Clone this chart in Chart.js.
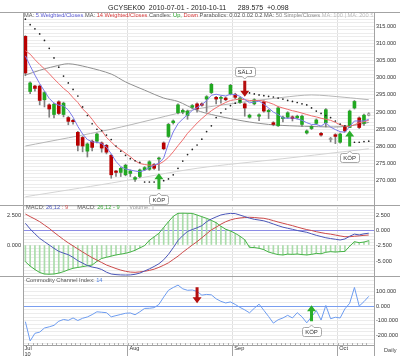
<!DOCTYPE html>
<html>
<head>
<meta charset="utf-8">
<script src="https://cdn.jsdelivr.net/npm/chart.js@4.4.1/dist/chart.umd.min.js"></script>
<style>
  html, body { margin:0; padding:0; background:#fff; }
  #wrap { position:relative; width:400px; height:356px; overflow:hidden; background:#fff; font-family:"Liberation Sans", Arial, Helvetica, sans-serif; }
  canvas { position:absolute; left:0; }
  .t { position:absolute; white-space:pre; line-height:1; z-index:6; }
  .ln { position:absolute; background:#a3a3a3; z-index:5; }
</style>
</head>
<body>
<div id="wrap">
  <canvas id="cMain" width="400" height="205" style="top:0px"></canvas>
  <canvas id="cMacd" width="400" height="71" style="top:205px"></canvas>
  <canvas id="cCci" width="400" height="80" style="top:276px"></canvas>
  <div class="ln" style="left:0;top:12px;width:400px;height:1px"></div>
  <div class="ln" style="left:0;top:205px;width:400px;height:1px"></div>
  <div class="ln" style="left:0;top:276px;width:400px;height:1px"></div>
  <div class="ln" style="left:23px;top:12px;width:1px;height:344px"></div>
  <div class="ln" style="left:374px;top:12px;width:1px;height:344px"></div>

  <div class="t" style="left:108px;top:3.5px;font-size:7px;color:#222">GCYSEK00  2010-07-01 - 2010-10-11      289.575  +0.098</div>

  <div style="position:absolute;left:24px;top:12.6px;width:349px;height:7px;overflow:hidden;z-index:6">
    <div class="t" style="left:0;top:0;font-size:5.7px;color:#555">MA: <span style="color:#5c5cd6">5 Weighted/Closes</span> MA: <span style="color:#d93a3a">14 Weighted/Closes</span> Candles: <span style="color:#1fa01f">Up,</span> <span style="color:#d93a3a">Down</span> Parabolics: 0.02 0.02 0.2 MA: <span style="color:#8a8a8a">50 Simple/Closes</span> <span style="color:#bbb">MA: 100 | MA: 200 Simple/Closes</span></div>
  </div>

  <div class="t" style="left:26px;top:204.8px;font-size:5.7px;color:#555">MACD: <span style="color:#4a56b8">26,12</span> <span style="color:#d05050">: 9</span></div>
  <div class="t" style="left:77.3px;top:204.8px;font-size:5.7px;color:#555">MACD: <span style="color:#3aa83a">26,12 - 9</span></div>
  <div class="t" style="left:129.3px;top:204.8px;font-size:5.7px;color:#999">Volume: <span style="color:#ccc">||</span></div>

  <div class="t" style="left:26px;top:278px;font-size:5.7px;color:#555">Commodity Channel Index: <span style="color:#4f7fe0">14</span></div>
  <div class="t" style="left:384px;top:347.7px;font-size:5.6px;color:#444">Daily</div>
</div>

<script>
// ---------------- DATA ----------------
const monthLabels = ['Jul', 'Aug', 'Sep', 'Oct'];
const monthStart  = [0, 22, 44, 66];        // index of first trading day of each month
const yearLabel   = '10';

const open = [
  312.1, 296.0, 297.6, 297.6, 293.6, 292.1, 289.3, 293.0, 289.3, 288.4,
  287.6, 284.1, 282.6, 278.6, 281.5, 281.5, 281.0, 280.3, 277.4, 272.8,
  272.4, 271.7, 272.1, 270.4, 271.2, 273.2, 273.3, 274.7, 276.3, 281.0,
  282.9, 286.9, 289.8, 290.0, 289.0, 291.4, 292.4, 292.4, 293.8, 295.7,
  294.3, 294.0, 294.1, 295.3, 295.2, 292.8, 292.4, 288.5, 292.4, 288.8,
  293.0, 290.1, 286.9, 286.0, 288.1, 288.5, 288.6, 288.3, 286.4, 283.9,
  285.2, 286.7, 283.8, 286.9, 282.0, 283.4, 281.2, 285.7, 285.5, 291.2,
  288.3, 286.7, 289.0];
const close = [
  301.4, 298.5, 296.9, 293.4, 295.7, 290.9, 292.3, 289.6, 292.6, 287.3,
  287.2, 280.3, 280.1, 280.7, 279.7, 283.6, 279.5, 278.3, 271.7, 272.4,
  273.6, 274.5, 272.8, 270.9, 273.1, 273.8, 275.5, 273.6, 276.6, 279.3,
  286.4, 287.4, 292.1, 290.5, 290.3, 291.9, 290.9, 292.0, 294.5, 298.1,
  293.8, 294.3, 293.6, 297.8, 294.3, 294.1, 291.2, 289.1, 293.6, 289.2,
  290.3, 290.5, 286.4, 291.2, 288.5, 289.8, 288.1, 288.8, 288.8, 284.5,
  285.8, 287.7, 283.3, 290.7, 282.0, 282.9, 283.6, 284.5, 290.3, 293.1,
  285.5, 289.1, 289.575];
const high = [
  312.3, 298.8, 297.8, 297.9, 296.0, 292.4, 292.6, 293.3, 292.9, 288.7,
  287.9, 284.4, 282.9, 281.0, 281.8, 283.9, 281.3, 280.6, 277.7, 273.0,
  273.9, 274.8, 273.1, 271.2, 273.4, 274.1, 275.8, 275.0, 276.9, 281.3,
  286.7, 287.7, 292.4, 290.9, 290.6, 292.2, 292.7, 292.7, 294.8, 298.4,
  294.6, 294.6, 294.4, 298.1, 295.5, 294.4, 292.7, 289.4, 293.9, 289.5,
  293.3, 290.8, 287.2, 291.5, 288.8, 290.1, 288.9, 289.1, 289.1, 284.8,
  286.1, 288.0, 284.1, 291.0, 282.6, 283.7, 283.9, 286.0, 290.6, 293.4,
  288.6, 289.4, 289.8];
const low = [
  300.6, 295.4, 296.1, 292.1, 291.5, 288.5, 288.3, 289.3, 288.6, 286.3,
  286.5, 278.7, 278.4, 276.9, 278.7, 281.0, 278.3, 277.8, 270.7, 271.2,
  271.2, 271.4, 271.2, 269.8, 270.9, 272.9, 273.0, 273.3, 273.0, 279.0,
  282.6, 286.5, 289.5, 289.5, 287.9, 291.0, 290.0, 291.7, 290.0, 295.4,
  292.4, 292.6, 293.3, 295.0, 293.9, 292.5, 288.8, 288.2, 292.1, 287.5,
  290.0, 288.1, 286.0, 285.8, 287.1, 288.2, 287.4, 288.0, 285.8, 283.6,
  284.9, 286.4, 283.0, 285.7, 281.3, 280.8, 280.9, 284.2, 285.5, 290.9,
  285.2, 286.1, 288.9];

const maWeighted5 = [
  306.4, 303.5, 300.8, 298.3, 296.1, 294.0, 292.6, 292.0, 291.8, 290.6,
  288.5, 285.8, 283.6, 282.0, 281.3, 281.2, 280.8, 279.8, 277.8, 275.6,
  274.1, 273.4, 273.1, 272.8, 272.6, 273.0, 273.8, 274.5, 275.1, 276.6,
  280.8, 284.2, 286.6, 288.0, 289.2, 290.5, 291.3, 292.2, 293.3, 294.9,
  295.2, 294.9, 294.7, 295.2, 295.1, 294.6, 293.7, 292.7, 292.9, 293.2,
  292.3, 291.2, 290.0, 289.3, 288.3, 288.2, 288.3, 288.0, 287.6, 286.9,
  286.4, 286.4, 285.9, 286.9, 285.6, 284.9, 284.3, 284.1, 285.8, 287.4,
  287.4, 287.4, 287.9];
const maWeighted14 = [
  307.9, 306.9, 305.3, 303.9, 302.6, 301.2, 299.7, 298.3, 296.9, 295.8,
  294.2, 292.8, 290.9, 289.6, 287.9, 286.0, 284.6, 282.6, 281.3, 279.9,
  279.0, 278.0, 277.0, 275.8, 275.0, 274.7, 274.5, 274.5, 274.8, 275.6,
  276.8, 278.4, 280.2, 281.9, 283.8, 285.3, 286.8, 288.1, 289.3, 290.4,
  291.3, 292.1, 292.8, 293.4, 293.6, 293.8, 293.6, 293.4, 293.4, 293.4,
  293.2, 292.8, 292.3, 291.6, 291.2, 290.8, 290.4, 290.1, 289.7, 289.3,
  288.9, 288.6, 288.2, 287.9, 287.6, 287.0, 286.3, 285.9, 285.8, 286.3,
  286.9, 287.2, 287.6];
const parabolicSar = [
  317.1, 315.5, 314.3, 312.8, 310.9, 308.6, 305.8, 303.1, 300.5, 298.5,
  296.6, 294.7, 291.5, 289.0, 286.6, 285.0, 284.6, 283.3, 282.0, 280.1,
  278.6, 277.4, 276.4, 275.8, 275.3, 269.6, 269.6, 269.6, 269.6, 270.0,
  270.5, 271.7, 273.6, 275.7, 277.6, 279.1, 280.4, 282.1, 284.3, 286.0,
  288.4, 289.8, 290.9, 291.9, 292.6, 293.3, 296.0, 295.6, 295.3, 295.0,
  294.8, 294.6, 294.4, 294.1, 293.8, 293.4, 293.1, 292.8, 292.4, 292.1,
  291.2, 290.3, 289.6, 289.0, 288.4, 287.4, 286.5, 286.0, 281.0, 281.2,
  281.2, 281.4, 281.5];

// long simple moving averages, read at a few points along each curve
const ma50Idx   = [0, 3, 6, 9, 13, 18, 21, 25, 29, 32, 36, 39, 43, 47, 51, 54, 60, 66, 70, 72];
const ma50Val   = [300.8, 302.2, 303.3, 304.1, 303.1, 301.1, 298.8, 296.4, 294.1, 293.1,
                   290.5, 289.3, 288.1, 287.1, 286.4, 286.1, 285.8, 285.7, 286.4, 287.0];
const ma100Idx  = [0, 18, 36, 44, 54, 60, 67, 72];
const ma100Val  = [280.1, 285.0, 290.9, 292.6, 294.3, 295.0, 294.3, 293.6];
const ma200Idx  = [0, 18, 36, 54, 72];
const ma200Val  = [265.3, 269.3, 273.6, 276.4, 279.3];

const macdLine = [
  1.24, 0.3, -0.5, -1.25, -1.8, -2.35, -2.9, -3.4, -3.7, -3.95,
  -4.4, -4.95, -5.35, -5.75, -6.0, -6.15, -6.4, -6.85, -7.15, -7.25,
  -7.3, -7.32, -7.3, -7.2, -7.0, -6.65, -6.3, -5.9, -5.45, -4.8,
  -3.9, -2.8, -1.6, -0.8, -0.1, 0.2, 0.5, 0.85, 1.5, 1.95,
  2.3, 2.62, 2.78, 2.88, 2.85, 2.6, 2.35, 2.1, 1.9, 1.78,
  1.65, 1.4, 1.13, 0.85, 0.6, 0.42, 0.25, 0.05, -0.1, -0.25,
  -0.5, -0.75, -0.95, -1.15, -1.28, -1.4, -1.52, -1.35, -0.9, -0.55,
  -0.68, -0.5, -0.4];
const macdSignal = [
  2.78, 2.35, 1.95, 1.51, 0.95, 0.4, -0.25, -0.85, -1.45, -2.0,
  -2.5, -3.0, -3.5, -3.98, -4.45, -4.85, -5.25, -5.66, -5.95, -6.25,
  -6.5, -6.7, -6.83, -6.87, -6.8, -6.7, -6.55, -6.35, -6.05, -5.7,
  -5.3, -4.75, -4.2, -3.55, -2.95, -2.35, -1.8, -1.15, -0.5, 0.15,
  0.6, 1.1, 1.5, 1.8, 2.0, 2.12, 2.2, 2.24, 2.2, 2.12,
  2.07, 1.9, 1.68, 1.45, 1.25, 1.05, 0.85, 0.62, 0.4, 0.2,
  0.05, -0.15, -0.3, -0.45, -0.55, -0.7, -0.85, -0.98, -0.98, -0.9,
  -0.84, -0.75, -0.7];
const macdHist = [
  -1.43, -1.8, -2.1, -2.35, -2.48, -2.5, -2.48, -2.4, -2.28, -2.12,
  -1.99, -1.92, -1.85, -1.78, -1.71, -1.4, -1.15, -1.05, -0.95, -0.85,
  -0.78, -0.71, -0.6, -0.45, -0.25, -0.05, 0.4, 0.7, 1.0, 1.5,
  1.99, 2.45, 2.71, 2.72, 2.71, 2.7, 2.56, 2.42, 2.28, 2.1,
  1.91, 1.6, 1.35, 1.2, 1.0, 0.75, 0.45, -0.2, -0.22, -0.28,
  -0.4, -0.6, -0.72, -0.82, -0.85, -0.78, -0.8, -0.77, -0.82, -0.85,
  -0.8, -0.72, -0.75, -0.62, -0.57, -0.6, -0.57, -0.55, -0.1, 0.28,
  0.2, 0.25, 0.37];
const cci14 = [
  -105, -236, -184, -176, -148, -140, -130, -102, -90, -96,
  -80, -97, -82, -73, -57, -38, -41, -44, -72, -64,
  -56, -48, -46, -58, -38, -15, -14, -10, 12, 62,
  108, 127, 143, 118, 108, 110, 100, 75, 80, 77,
  50, 33, 22, 29, 12, -8, -25, -45, -14, 14,
  -28, -70, -115, -92, -80, -62, -80, -44, -72, -113,
  -72, -30, -94, 5, -85, -75, -80, -18, 20, 127,
  1, 31, 67];

const priceSignalIdx  = [28, 46, 68];
const priceSignalType = ['KÖP', 'SÄLJ', 'KÖP'];
const cciSignalIdx    = [36, 60];
const cciSignalType   = ['SÄLJ', 'KÖP'];

const priceTickLabels = [270, 275, 280, 285, 290, 295, 300, 305, 310, 315];
const macdTickLabels  = [-5, -2.5, 0, 2.5];
const histTickLabels  = [0, 2.5];
const cciTickLabels   = [-200, -100, 0, 100];

// ---------------- STYLE / HELPERS ----------------
const FONT = '"Liberation Sans", Arial, Helvetica, sans-serif';
const FAINT = '#ececec';
const X_MIN = -0.5, X_MAX = 73.1;
Chart.defaults.font.family = FONT;

const pts = arr => arr.map((v, i) => ({x: i, y: v}));
const sparse = (ix, vals) => ix.map((x, k) => ({x, y: vals[k]}));

function rangeTicks(min, max, step) {
  const t = [];
  for (let v = Math.ceil(min / step - 1e-9) * step; v <= max + 1e-9; v += step) t.push({value: Math.round(v * 1000) / 1000});
  return t;
}
function yAxis(o) {
  return {
    type: 'linear', position: o.pos, min: o.min, max: o.max,
    afterBuildTicks: s => { s.ticks = o.list ? o.list.map(v => ({value: v})) : rangeTicks(o.min, o.max, o.step); },
    afterFit: s => { s.width = o.width; s.paddingTop = 0; s.paddingBottom = 0; },
    border: {display: false},
    grid: {drawTicks: false, color: c => o.gridColor(c.tick.value)},
    ticks: {autoSkip: false, padding: 2, color: '#333', font: {family: FONT, size: 5.6},
      callback: v => o.labels.some(l => Math.abs(l - v) < 1e-6) ? Number(v).toFixed(3) : ''}
  };
}
function hiddenX() {
  return {
    type: 'linear', min: X_MIN, max: X_MAX, offset: false, position: 'bottom',
    afterBuildTicks: s => { s.ticks = monthStart.map(m => ({value: m - 0.5})); },
    afterFit: s => { s.height = 0; s.paddingLeft = 0; s.paddingRight = 0; },
    grid: {offset: false, drawTicks: false, color: c => c.tick.value < 0 ? 'rgba(0,0,0,0)' : '#e0e0e0'},
    ticks: {display: false}, border: {display: false}
  };
}

function drawArrow(ctx, x, tipY, dir, color) {
  const L = 16, H = 6, W = 4.5, S = 1.5;
  ctx.save();
  ctx.fillStyle = color;
  ctx.beginPath();
  ctx.moveTo(x, tipY);
  ctx.lineTo(x - W, tipY + dir * H);
  ctx.lineTo(x - S, tipY + dir * H);
  ctx.lineTo(x - S, tipY + dir * L);
  ctx.lineTo(x + S, tipY + dir * L);
  ctx.lineTo(x + S, tipY + dir * H);
  ctx.lineTo(x + W, tipY + dir * H);
  ctx.closePath();
  ctx.fill();
  ctx.restore();
}
function drawTag(ctx, cx, edgeY, text, notchUp) {
  ctx.save();
  ctx.font = '6px ' + FONT;
  const w = Math.round(ctx.measureText(text).width + 6), h = 9, r = 2, n = 2.5;
  const left = Math.round(cx - w / 2) + 0.5, right = left + w;
  const top = Math.round(notchUp ? edgeY : edgeY - h) + 0.5, bottom = top + h;
  ctx.beginPath();
  ctx.moveTo(left + r, top);
  if (notchUp) { ctx.lineTo(cx - n, top); ctx.lineTo(cx, top - n); ctx.lineTo(cx + n, top); }
  ctx.lineTo(right - r, top);
  ctx.arcTo(right, top, right, top + r, r);
  ctx.lineTo(right, bottom - r);
  ctx.arcTo(right, bottom, right - r, bottom, r);
  if (!notchUp) { ctx.lineTo(cx + n, bottom); ctx.lineTo(cx, bottom + n); ctx.lineTo(cx - n, bottom); }
  ctx.lineTo(left + r, bottom);
  ctx.arcTo(left, bottom, left, bottom - r, r);
  ctx.lineTo(left, top + r);
  ctx.arcTo(left, top, left + r, top, r);
  ctx.closePath();
  ctx.fillStyle = '#fff';
  ctx.fill();
  ctx.strokeStyle = '#a8a8a8';
  ctx.lineWidth = 1;
  ctx.stroke();
  ctx.fillStyle = '#333';
  ctx.textAlign = 'center';
  ctx.textBaseline = 'middle';
  ctx.fillText(text, cx, top + h / 2 + 0.5);
  ctx.restore();
}
function drawSignal(ctx, x, tip, type, withLabel) {
  const up = type === 'KÖP';
  drawArrow(ctx, x, tip, up ? 1 : -1, up ? '#2aae2a' : '#b50f0f');
  if (withLabel) {
    if (up) drawTag(ctx, x, tip + 16 + 6, type, true);
    else drawTag(ctx, x, tip - 16 - 5, type, false);
  }
}

// ---------------- MAIN PRICE PANEL ----------------
const n = open.length;
const bodyBg = open.map((o, i) => i === n - 1 ? '#ffffff' : (close[i] > o ? '#21a821' : (close[i] < o ? '#b80000' : '#9a9a9a')));
const bodyBorder = open.map((o, i) => i === n - 1 ? '#a0a0a0' : 'rgba(0,0,0,0)');
const bodyBorderW = open.map((o, i) => i === n - 1 ? 1 : 0);

const mainSignals = {
  id: 'mainSignals',
  afterDatasetsDraw(chart) {
    const {ctx, scales: {x, y}} = chart;
    priceSignalIdx.forEach((idx, k) => {
      const type = priceSignalType[k];
      const tip = type === 'KÖP' ? y.getPixelForValue(low[idx]) + 3 : y.getPixelForValue(high[idx]) - 6;
      drawSignal(ctx, x.getPixelForValue(idx), tip, type, true);
    });
  }
};

new Chart(document.getElementById('cMain'), {
  type: 'bar',
  data: {
    datasets: [
      {type: 'line', data: pts(parabolicSar), showLine: false, pointRadius: 0.85, pointBackgroundColor: '#222', pointBorderWidth: 0, order: 0},
      {type: 'line', data: pts(maWeighted5), borderColor: '#7a7aea', borderWidth: 1, pointRadius: 0, tension: 0, order: 1},
      {type: 'line', data: pts(maWeighted14), borderColor: '#ee6c6c', borderWidth: 1, pointRadius: 0, tension: 0, order: 2},
      {type: 'bar', data: open.map((o, i) => ({x: i, y: [o, close[i]]})), backgroundColor: bodyBg, borderColor: bodyBorder, borderWidth: bodyBorderW,
        borderSkipped: false, barThickness: 3, grouped: false, minBarLength: 1, order: 3},
      {type: 'bar', data: low.map((l, i) => ({x: i, y: [l, high[i]]})), backgroundColor: '#808080', barThickness: 1, grouped: false, order: 4},
      {type: 'line', data: sparse(ma50Idx, ma50Val), borderColor: '#909090', borderWidth: 1, pointRadius: 0, tension: 0.3, order: 5},
      {type: 'line', data: sparse(ma100Idx, ma100Val), borderColor: '#b6b6b6', borderWidth: 1, pointRadius: 0, tension: 0.3, order: 6},
      {type: 'line', data: sparse(ma200Idx, ma200Val), borderColor: '#d4d4d4', borderWidth: 1, pointRadius: 0, tension: 0.3, order: 7}
    ]
  },
  options: {
    responsive: false, animation: false, events: [],
    layout: {padding: {left: 23, top: 12, right: 0, bottom: 0}},
    plugins: {legend: {display: false}, tooltip: {enabled: false}},
    scales: {
      x: hiddenX(),
      y: yAxis({pos: 'right', min: 264.06, max: 319.2, step: 1, width: 26, labels: priceTickLabels, gridColor: () => FAINT})
    }
  },
  plugins: [mainSignals]
});

// ---------------- MACD PANEL ----------------
new Chart(document.getElementById('cMacd'), {
  type: 'bar',
  data: {
    datasets: [
      {type: 'line', data: pts(macdLine), yAxisID: 'yr', borderColor: '#4a56b8', borderWidth: 1, pointRadius: 0, tension: 0, order: 1},
      {type: 'line', data: pts(macdSignal), yAxisID: 'yr', borderColor: '#cc4a4a', borderWidth: 1, pointRadius: 0, tension: 0, order: 2},
      {type: 'line', data: pts(macdHist), yAxisID: 'yl', borderColor: '#46b246', borderWidth: 1, pointRadius: 0, tension: 0, order: 3},
      {type: 'bar', data: pts(macdHist), yAxisID: 'yl', backgroundColor: '#aadcaa', barThickness: 1, grouped: false, order: 4}
    ]
  },
  options: {
    responsive: false, animation: false, events: [],
    layout: {padding: 0},
    plugins: {legend: {display: false}, tooltip: {enabled: false}},
    scales: {
      x: hiddenX(),
      yl: yAxis({pos: 'left', min: -2.65, max: 3.42, list: histTickLabels, width: 23, labels: histTickLabels,
        gridColor: v => Math.abs(v) < 1e-6 ? '#4cb84c' : 'rgba(0,0,0,0)'}),
      yr: yAxis({pos: 'right', min: -7.48, max: 4.27, step: 0.5, width: 26, labels: macdTickLabels,
        gridColor: v => Math.abs(v) < 1e-6 ? '#8c8ce6' : FAINT})
    }
  }
});

// ---------------- CCI PANEL ----------------
const cciSignals = {
  id: 'cciSignals',
  afterDatasetsDraw(chart) {
    const {ctx, scales: {x, y}} = chart;
    cciSignalIdx.forEach((idx, k) => {
      const type = cciSignalType[k];
      const zero = y.getPixelForValue(0);
      const tip = type === 'KÖP' ? zero - 1 : zero - 3;
      drawSignal(ctx, x.getPixelForValue(idx), tip, type, type === 'KÖP');
    });
  },
  afterDraw(chart) {
    const {ctx, scales: {x}, chartArea} = chart;
    ctx.save();
    ctx.strokeStyle = '#b0b0b0';
    ctx.lineWidth = 1;
    for (let i = 0; i < n; i++) {
      const px = Math.round(x.getPixelForValue(i - 0.5)) + 0.5;
      ctx.beginPath();
      ctx.moveTo(px, chartArea.bottom - 2);
      ctx.lineTo(px, chartArea.bottom);
      ctx.stroke();
    }
    ctx.restore();
  }
};

new Chart(document.getElementById('cCci'), {
  type: 'line',
  data: {datasets: [{data: pts(cci14), borderColor: '#6d9cf0', borderWidth: 1, pointRadius: 0, tension: 0}]},
  options: {
    responsive: false, animation: false, events: [],
    layout: {padding: {left: 23, top: 0, right: 0, bottom: 0}},
    plugins: {legend: {display: false}, tooltip: {enabled: false}},
    scales: {
      x: {
        type: 'linear', min: X_MIN, max: X_MAX, offset: false, position: 'bottom',
        afterBuildTicks: s => { s.ticks = monthStart.map(m => ({value: m - 0.5})); },
        afterFit: s => { s.height = 11; s.paddingLeft = 0; s.paddingRight = 0; },
        grid: {offset: false, drawTicks: true, tickLength: 11, tickColor: '#a3a3a3',
          color: c => c.tick.value < 0 ? 'rgba(0,0,0,0)' : '#e0e0e0'},
        border: {display: true, color: '#a3a3a3'},
        ticks: {autoSkip: false, maxRotation: 0, minRotation: 0, align: 'start', labelOffset: 1.5, padding: -10,
          color: '#333', font: {family: FONT, size: 5.6, lineHeight: 1},
          callback: v => {
            const k = monthStart.indexOf(Math.round(v + 0.5));
            if (k < 0) return '';
            return k === 0 ? [monthLabels[k], yearLabel] : monthLabels[k];
          }}
      },
      y: yAxis({pos: 'right', min: -263.4, max: 205, step: 25, width: 26, labels: cciTickLabels,
        gridColor: v => Math.abs(v) < 1e-6 ? '#7a9ef0' : FAINT})
    }
  },
  plugins: [cciSignals]
});
</script>
</body>
</html>
